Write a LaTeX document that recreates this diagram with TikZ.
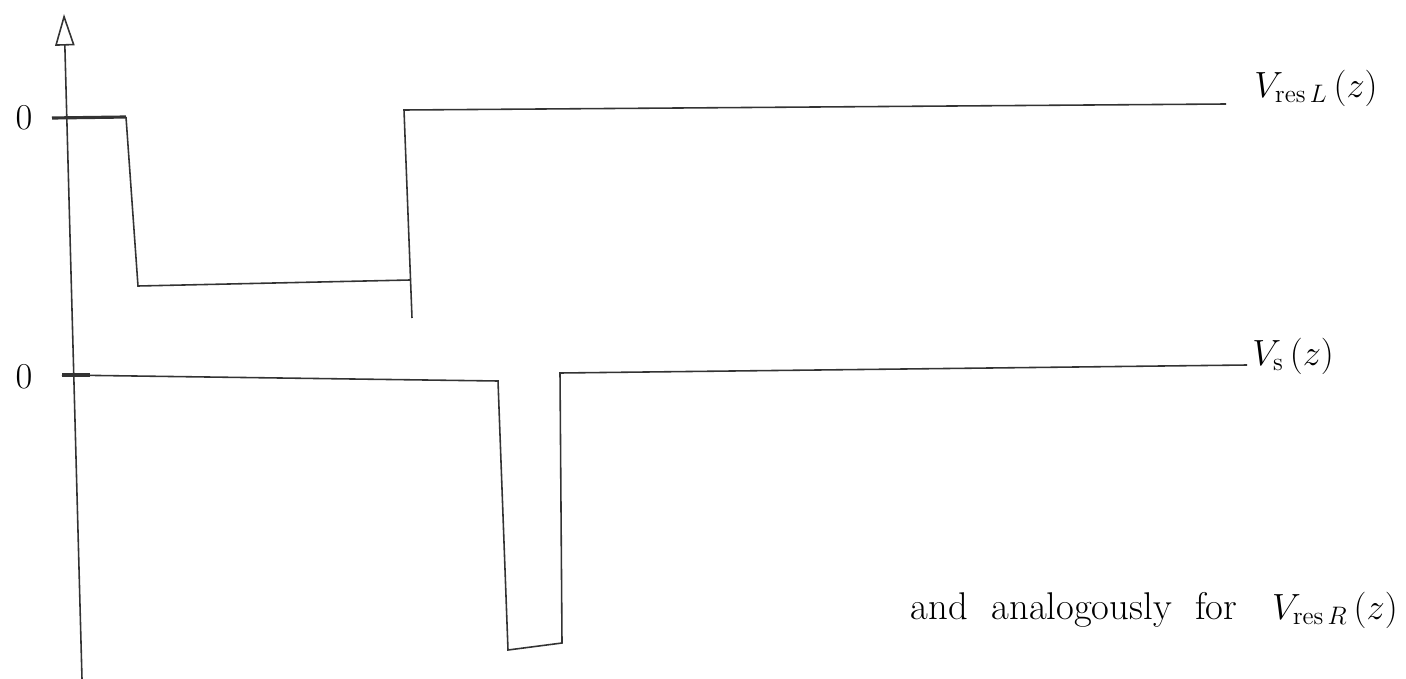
\documentclass[tikz,border=0pt]{standalone}
\usetikzlibrary{arrows.meta}
\begin{document}
\begin{tikzpicture}[x=0.02cm,y=-0.02cm,
  wave/.style={line width=0.9pt,draw=black!80},
  axisline/.style={line width=0.9pt,draw=black!80,-{Triangle[open,length=18pt,width=11pt]}},
  lbl/.style={font=\fontsize{22}{26}\selectfont,inner sep=0pt}]
\useasboundingbox (0,0) rectangle (1406,679);
% axis
\coordinate (ax0) at (82,679);
\coordinate (ax1) at (64,14);
\draw[axisline] (ax0) -- (ax1);
% zero labels
\node[lbl] (z1) at (24,118) {$0$};
\node[lbl] (z2) at (24,377) {$0$};
% top curve V_resL
\coordinate (a0) at (52,118);
\coordinate (a1) at (126,117);
\coordinate (a2) at (138,286);
\coordinate (a3) at (410,280);
\coordinate (a4) at (404,110);
\coordinate (a5) at (1226,104);
\draw[wave,line width=1.8pt] (a0) -- (a1);
\draw[wave] (a1) -- (a2) -- (a3);
\draw[wave] (412,318) -- (a4) -- (a5);
\node[lbl,anchor=west] (l1) at (1254,88) {$V_{\mathrm{res}\,L}\,(z)$};
% bottom curve V_s
\coordinate (b0) at (62,375);
\coordinate (b1) at (498,381);
\coordinate (b2) at (508,650);
\coordinate (b3) at (562,643);
\coordinate (b4) at (560,373);
\coordinate (b5) at (1247,365);
\draw[wave,line width=1.8pt] (b0) -- (90,375);
\draw[wave] (b0) -- (b1) -- (b2) -- (b3) -- (b4) -- (b5);
\node[lbl,anchor=west] (l2) at (1252,356) {$V_{\mathrm{s}}\,(z)$};
% note
\node[lbl,anchor=east] (l3) at (1398,610) {and \ analogously \ for \ \ $V_{\mathrm{res}\,R}\,(z)$};
\end{tikzpicture}
\end{document}
